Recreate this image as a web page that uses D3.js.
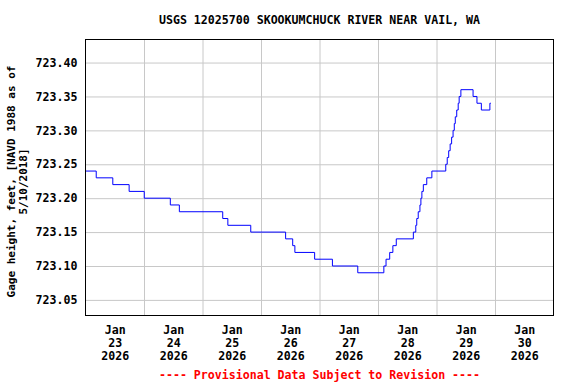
<!DOCTYPE html>
<html>
<head>
<meta charset="utf-8">
<script src="https://cdn.jsdelivr.net/npm/d3@7"></script>
<style>
  body { margin: 0; background: #fff; }
  svg text { font-family: "DejaVu Sans Mono", monospace; font-weight: bold; }
</style>
</head>
<body>
<div class="chart-container"></div>
<script>
// hours after Jan 23 2026 00:00 where the gage value changes
var changeHours = [0, 4.4, 11.2, 17.9, 24.1, 34.8, 38.5, 56.3, 58.4, 67.8,
  82.1, 85.0, 85.9, 94.0, 101.3, 111.7, 122.4, 123.3, 124.8, 126.1,
  127.5, 134.5, 135.5, 135.9, 136.5, 137.2, 137.6, 138.0, 138.6, 140.0,
  142.1, 147.8, 148.4, 149.0, 149.6, 150.2, 150.8, 151.3, 151.7, 152.3,
  152.9, 153.3, 154.0, 159.0, 160.6, 162.4, 165.9, 166.3];
var gageValues = [723.24, 723.23, 723.22, 723.21, 723.20, 723.19, 723.18, 723.17, 723.16, 723.15,
  723.14, 723.13, 723.12, 723.11, 723.10, 723.09, 723.10, 723.11, 723.12, 723.13,
  723.14, 723.15, 723.16, 723.17, 723.18, 723.19, 723.20, 723.21, 723.22, 723.23,
  723.24, 723.25, 723.26, 723.27, 723.28, 723.29, 723.30, 723.31, 723.32, 723.33,
  723.34, 723.35, 723.36, 723.35, 723.34, 723.33, 723.34, 723.34];

var yTicks = [723.05, 723.10, 723.15, 723.20, 723.25, 723.30, 723.35, 723.40];
var dayLabels = ['23', '24', '25', '26', '27', '28', '29', '30'];
var yDomain = [723.027, 723.434];

var title = 'USGS 12025700 SKOOKUMCHUCK RIVER NEAR VAIL, WA';
var yLabel = ['Gage height, feet, [NAVD 1988 as of', '5/10/2018]'];
var footer = '---- Provisional Data Subject to Revision ----';

var margin = {top: 39.5, right: 22.5, bottom: 68.5, left: 85.5};
var width = 576 - margin.left - margin.right;
var height = 384 - margin.top - margin.bottom;
var fontSize = '11.6px';

var start = new Date(2026, 0, 23);
var hourMs = 3600 * 1000;
var data = changeHours.map((h, i) => ({
  time: new Date(start.getTime() + h * hourMs),
  value: gageValues[i]
}));

var x = d3.scaleTime()
  .domain([start, new Date(2026, 0, 31)])
  .range([margin.left, margin.left + width]);

var y = d3.scaleLinear()
  .domain(yDomain)
  .range([margin.top + height, margin.top]);

var svg = d3.select('.chart-container').append('svg')
  .attr('width', 576)
  .attr('height', 384);

// horizontal grid + y labels
var gY = svg.append('g')
  .attr('transform', `translate(${margin.left},0)`)
  .call(d3.axisLeft(y).tickValues(yTicks).tickFormat(d3.format('.2f'))
    .tickSize(-width).tickPadding(8));
gY.select('.domain').remove();
gY.selectAll('line').attr('stroke', '#c8c8c8');
gY.selectAll('text').style('font-size', fontSize).attr('fill', '#000');

// vertical grid at midnight
var midnights = d3.range(1, 8).map(d => new Date(2026, 0, 23 + d));
var gGrid = svg.append('g')
  .attr('transform', `translate(0,${margin.top + height})`)
  .call(d3.axisBottom(x).tickValues(midnights).tickSize(-height).tickFormat(''));
gGrid.select('.domain').remove();
gGrid.selectAll('line').attr('stroke', '#c8c8c8');

// day labels at noon
var noons = dayLabels.map(d => new Date(2026, 0, +d, 12));
var gX = svg.append('g')
  .attr('transform', `translate(0,${margin.top + height})`)
  .call(d3.axisBottom(x).tickValues(noons).tickSize(0).tickFormat(''));
gX.select('.domain').remove();
gX.selectAll('.tick').each(function(d, i) {
  var t = d3.select(this).append('text')
    .attr('fill', '#000')
    .attr('text-anchor', 'middle')
    .style('font-size', fontSize);
  ['Jan', dayLabels[i], '2026'].forEach((s, k) => {
    t.append('tspan').attr('x', 0).attr('y', 18 + k * 13).text(s);
  });
});

var line = d3.line()
  .x(d => x(d.time))
  .y(d => y(d.value))
  .curve(d3.curveStepAfter);

svg.append('path')
  .datum(data)
  .attr('d', line)
  .style('fill', 'none')
  .style('stroke', '#0000ff')
  .style('stroke-width', 1);

svg.append('rect')
  .attr('x', margin.left)
  .attr('y', margin.top)
  .attr('width', width)
  .attr('height', height)
  .style('fill', 'none')
  .style('stroke', '#000')
  .style('stroke-width', 1);

svg.append('text')
  .attr('x', margin.left + width / 2)
  .attr('y', 24)
  .attr('text-anchor', 'middle')
  .style('font-size', fontSize)
  .text(title);

var yl = svg.append('text')
  .attr('transform', `translate(15,${margin.top + height / 2 + 4}) rotate(-90)`)
  .attr('text-anchor', 'middle')
  .style('font-size', '11px');
yLabel.forEach((s, k) => {
  yl.append('tspan').attr('x', 0).attr('y', k * 12).text(s);
});

svg.append('text')
  .attr('x', margin.left + width / 2)
  .attr('y', 379)
  .attr('text-anchor', 'middle')
  .attr('fill', '#ff0000')
  .style('font-size', fontSize)
  .text(footer);
</script>
</body>
</html>
